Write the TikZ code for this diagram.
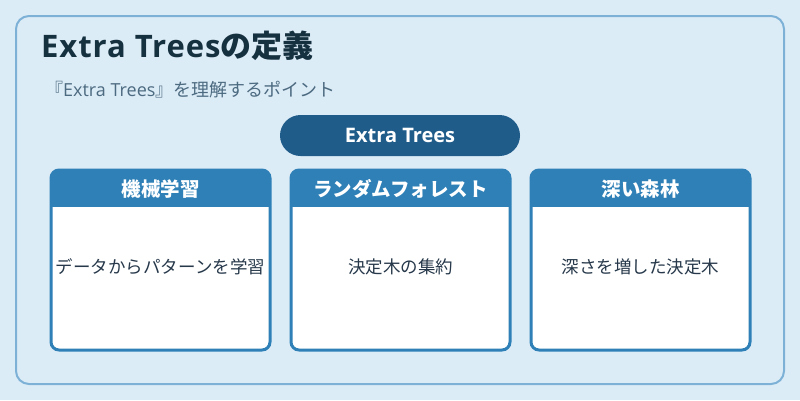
\documentclass[tikz,border=0pt]{standalone}
\usepackage{fontspec}
\setmainfont{Open Sans}
\newfontfamily\jp{Noto Sans CJK JP}
\newfontfamily\titlelatin[LetterSpace=3]{Open Sans}
\definecolor{bg}{HTML}{DCECF7}
\definecolor{frame}{HTML}{7DB1D6}
\definecolor{hdr}{HTML}{2E80B7}
\definecolor{pill}{HTML}{1F5C8A}
\definecolor{titlec}{HTML}{15303F}
\definecolor{subc}{HTML}{4C6A80}
\definecolor{bodyc}{HTML}{26384A}
\tikzset{
  titletext/.style={anchor=base west, inner sep=0pt, text=titlec, font=\fontsize{31}{34}\selectfont\bfseries},
  subtext/.style={anchor=base west, inner sep=0pt, text=subc, font=\fontsize{18}{21}\selectfont},
  pillbox/.style={fill=pill, rounded corners=20.5pt, minimum width=240pt, minimum height=41pt, inner sep=0pt, text=white, font=\fontsize{20}{23}\selectfont\bfseries},
  hdrtext/.style={inner sep=0pt, text=white, font=\jp\fontsize{19.5}{22}\selectfont\bfseries},
  bodytext/.style={inner sep=0pt, text=bodyc, font=\jp\fontsize{17.5}{20}\selectfont},
}
\newcommand{\mycard}[5]{%
  \begin{scope}
    \clip[rounded corners=8pt] (#1,170) rectangle (#2,350);
    \fill[white] (#1,170) rectangle (#2,350);
    \fill[hdr] (#1,170) rectangle (#2,207);
  \end{scope}
  \draw[hdr, line width=3pt, rounded corners=8pt] (#1,170) rectangle (#2,350);
  \node[hdrtext] (#3h) at ({(#1+#2)/2},189) {#4};
  \node[bodytext] (#3b) at ({(#1+#2)/2},267) {#5};
}
\begin{document}
\begin{tikzpicture}[x=1pt,y=-1pt]
  \fill[bg] (0,0) rectangle (800,400);
  \useasboundingbox (0,0) rectangle (800,400);
  \draw[frame, line width=2pt, rounded corners=13pt] (16,16) rectangle (784,384);
  \node[titletext] (title) at (41,57) {{\titlelatin\bfseries Extra Trees}{\jp の定義}};
  \node[subtext] (sub) at (45,96) {{\jp 『}Extra Trees{\jp 』を理解するポイント}};
  \node[pillbox] (pill) at (400,135.5) {Extra Trees};
  \mycard{51}{270}{c1}{機械学習}{データからパターンを学習}
  \mycard{291}{510}{c2}{ランダムフォレスト}{決定木の集約}
  \mycard{531}{750}{c3}{深い森林}{深さを増した決定木}
\end{tikzpicture}
\end{document}
